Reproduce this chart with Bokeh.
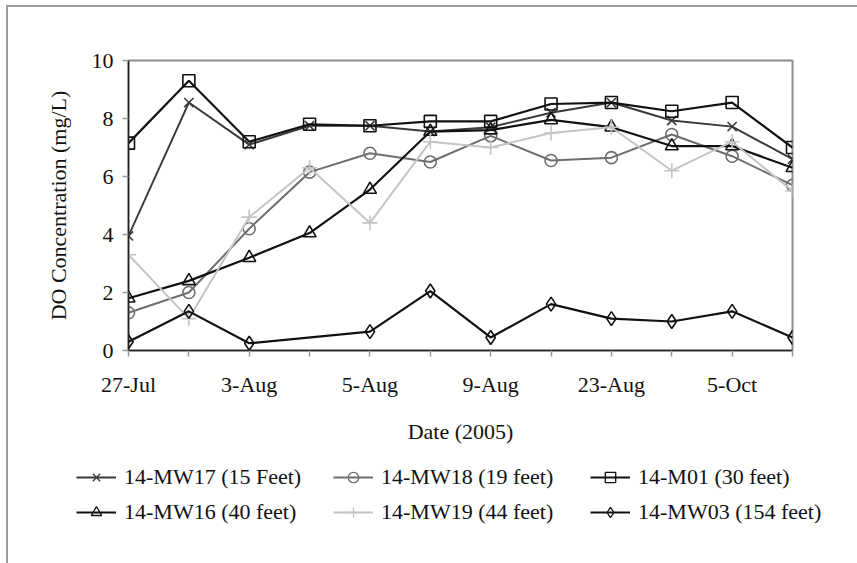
from bokeh.plotting import figure
from bokeh.layouts import column, row
from bokeh.models import Range1d, FixedTicker, Legend, LegendItem
from bokeh.embed import file_html
from bokeh.resources import INLINE

# ---- data ----
tick_labels = ["27-Jul", "", "3-Aug", "", "5-Aug", "", "9-Aug", "", "23-Aug", "", "5-Oct", ""]
x_idx = list(range(len(tick_labels)))

mw17 = [3.95, 8.55, 7.1, 7.75, 7.75, 7.55, 7.7, 8.2, 8.55, 7.93, 7.72, 6.6]
mw18 = [1.3, 2.0, 4.2, 6.15, 6.8, 6.5, 7.4, 6.55, 6.65, 7.45, 6.7, 5.7]
m01 = [7.15, 9.3, 7.2, 7.8, 7.75, 7.9, 7.9, 8.5, 8.55, 8.25, 8.55, 7.0]
mw16 = [1.8, 2.4, 3.2, 4.05, 5.55, 7.55, 7.6, 7.95, 7.7, 7.05, 7.05, 6.3]
mw19 = [3.3, 1.1, 4.6, 6.3, 4.4, 7.2, 7.0, 7.5, 7.7, 6.2, 7.2, 5.5]
mw03 = [0.3, 1.35, 0.25, None, 0.65, 2.05, 0.45, 1.6, 1.1, 1.0, 1.35, 0.45]

series_names = ["14-MW17 (15 Feet)", "14-MW18 (19 feet)", "14-M01 (30 feet)",
                "14-MW16 (40 feet)", "14-MW19 (44 feet)", "14-MW03 (154 feet)"]
series_vals = [mw17, mw18, m01, mw16, mw19, mw03]

styles = [
    dict(color="#3a3a3a", marker="x", size=13, lw=2),
    dict(color="#6e6e6e", marker="circle", size=12, lw=2),
    dict(color="#111111", marker="square", size=12, lw=2.2),
    dict(color="#111111", marker="triangle", size=13, lw=2.2),
    dict(color="#c4c4c4", marker="cross", size=15, lw=2),
    dict(color="#111111", marker="diamond", size=14, lw=2.2),
]

FONT = "Liberation Serif"

W = 850
ox, oy = 7, 7          # page offset of the layout content
frame_l, frame_t = 127, 60
frame_w, frame_h = 664, 290
H1 = 448               # main chart height
H2 = 112               # legend strip height

p = figure(width=W, height=H1, output_backend="svg", toolbar_location=None,
           x_range=Range1d(0, 11), y_range=Range1d(0, 10),
           min_border_left=frame_l - ox, min_border_top=frame_t - oy,
           min_border_right=W - (frame_l - ox) - frame_w,
           min_border_bottom=H1 - (frame_t - oy) - frame_h)

p.grid.visible = False
p.outline_line_color = "#8c8c8c"
p.outline_line_width = 2
p.background_fill_color = "white"
p.border_fill_color = "white"

# axes
p.xaxis.ticker = FixedTicker(ticks=x_idx)
p.xaxis.major_label_overrides = {i: lab for i, lab in zip(x_idx, tick_labels)}
p.yaxis.ticker = FixedTicker(ticks=[0, 2, 4, 6, 8, 10])
for ax in (p.xaxis[0], p.yaxis[0]):
    ax.axis_line_color = "#222222"
    ax.axis_line_width = 1.5
    ax.major_tick_line_color = "#9a9a9a"
    ax.major_tick_line_width = 1.5
    ax.major_tick_in = 0
    ax.major_tick_out = 6
    ax.minor_tick_line_color = None
    ax.major_label_text_font = FONT
    ax.major_label_text_font_size = "22px"
    ax.major_label_text_color = "#111111"
    ax.axis_label_text_font = FONT
    ax.axis_label_text_font_size = "22px"
    ax.axis_label_text_font_style = "normal"
    ax.axis_label_text_color = "#111111"
p.xaxis.major_label_standoff = 15
p.yaxis.major_label_standoff = 9
p.xaxis.axis_label = "Date (2005)"
p.yaxis.axis_label = "DO Concentration (mg/L)"
p.xaxis.axis_label_standoff = 19
p.yaxis.axis_label_standoff = 18

# legend strip: the same series drawn off-view so the legend has samples
q = figure(width=W, height=H2, output_backend="svg", toolbar_location=None,
           x_range=Range1d(0, 11), y_range=Range1d(50, 60),
           x_axis_location=None, y_axis_location=None,
           min_border_left=0, min_border_right=0, min_border_top=0, min_border_bottom=0)
q.grid.visible = False
q.outline_line_color = None
q.background_fill_color = "white"
q.border_fill_color = "white"

items = []
for name, vals, st in zip(series_names, series_vals, styles):
    xs = [x for x, v in zip(x_idx, vals) if v is not None]
    ys = [v for v in vals if v is not None]
    p.line(xs, ys, line_color=st["color"], line_width=st["lw"])
    p.scatter(xs, ys, marker=st["marker"], size=st["size"],
              line_color=st["color"], line_width=1.6,
              fill_color="white", fill_alpha=0.0)
    l1 = q.line(xs, ys, line_color=st["color"], line_width=st["lw"])
    l2 = q.scatter(xs, ys, marker=st["marker"], size=st["size"] - 3,
                   line_color=st["color"], line_width=1.3,
                   fill_color="white", fill_alpha=0.0)
    items.append(LegendItem(label=name, renderers=[l1, l2]))

legend = Legend(items=items, location=(75 - ox, 30 + (H2 - 100)),
                ncols=3, orientation="horizontal",
                label_text_font=FONT, label_text_font_size="22px",
                label_text_color="#111111", label_width=200, label_height=26,
                glyph_width=40, glyph_height=26, label_standoff=8,
                spacing=9, padding=0, margin=0,
                border_line_color=None, background_fill_alpha=0)
q.add_layout(legend, "center")

layout = column(p, row(q), spacing=0)
layout.margin = (5, 0, 0, 6)
layout.styles = {"border-top": "2px solid #9c9c9c", "border-left": "2px solid #9c9c9c"}

open("out.html", "w").write(file_html(layout, INLINE))
